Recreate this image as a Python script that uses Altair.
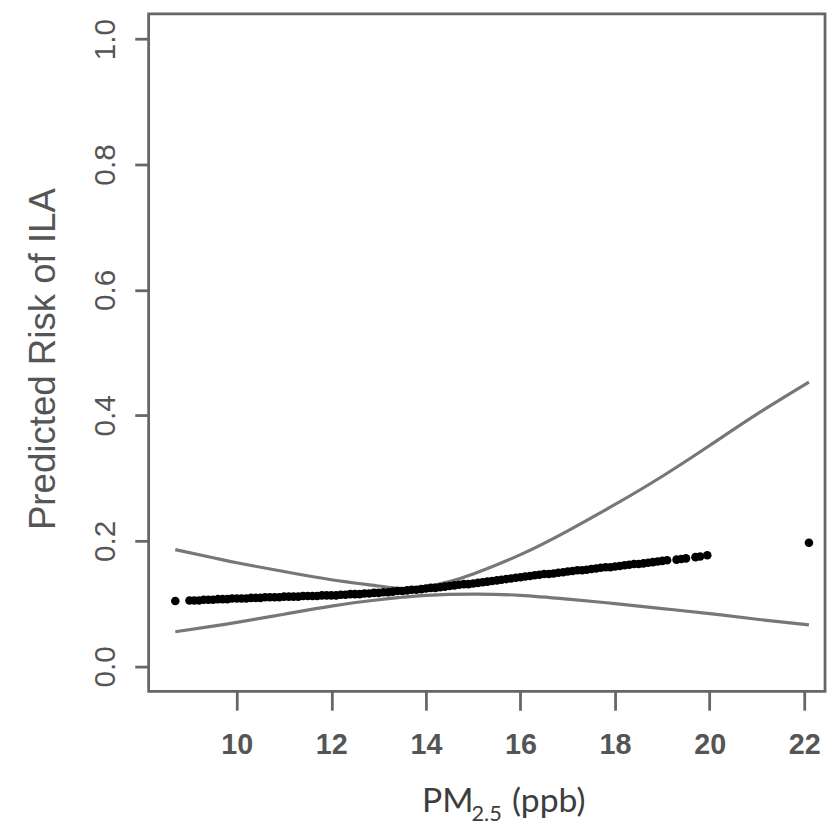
import altair as alt
import pandas as pd

# ---- data ----
pt_x = [8.7,
        9.0, 9.1, 9.2, 9.3, 9.4, 9.5, 9.6, 9.7, 9.8, 9.9,
        10.0, 10.1, 10.2, 10.3, 10.4, 10.5, 10.6, 10.7, 10.8, 10.9,
        11.0, 11.1, 11.2, 11.3, 11.4, 11.5, 11.6, 11.7, 11.8, 11.9,
        12.0, 12.1, 12.2, 12.3, 12.4, 12.5, 12.6, 12.7, 12.8, 12.9,
        13.0, 13.1, 13.2, 13.3, 13.4, 13.5, 13.6, 13.7, 13.8, 13.9,
        14.0, 14.1, 14.2, 14.3, 14.4, 14.5, 14.6, 14.7, 14.8, 14.9,
        15.0, 15.1, 15.2, 15.3, 15.4, 15.5, 15.6, 15.7, 15.8, 15.9,
        16.0, 16.1, 16.2, 16.3, 16.4, 16.5, 16.6, 16.7, 16.8, 16.9,
        17.0, 17.1, 17.2, 17.3, 17.4, 17.5, 17.6, 17.7, 17.8, 17.9,
        18.0, 18.1, 18.2, 18.3, 18.4, 18.5, 18.6, 18.7, 18.8, 18.9,
        19.0, 19.1, 19.3, 19.4, 19.5, 19.7, 19.8, 19.95,
        22.1]
pt_y = [0.104,
        0.105, 0.105, 0.105, 0.106, 0.106, 0.106, 0.107, 0.107, 0.107, 0.108,
        0.108, 0.108, 0.108, 0.109, 0.109, 0.109, 0.110, 0.110, 0.110, 0.110,
        0.111, 0.111, 0.111, 0.111, 0.112, 0.112, 0.112, 0.112, 0.113, 0.113,
        0.113, 0.113, 0.114, 0.114, 0.115, 0.115, 0.115, 0.116, 0.116, 0.117,
        0.117, 0.118, 0.118, 0.119, 0.120, 0.120, 0.121, 0.122, 0.122, 0.123,
        0.124, 0.125, 0.125, 0.126, 0.127, 0.128, 0.129, 0.130, 0.131, 0.131,
        0.132, 0.133, 0.134, 0.135, 0.136, 0.137, 0.138, 0.139, 0.140, 0.141,
        0.142, 0.143, 0.144, 0.145, 0.146, 0.147, 0.147, 0.148, 0.149, 0.150,
        0.151, 0.152, 0.153, 0.153, 0.154, 0.155, 0.156, 0.157, 0.158, 0.158,
        0.159, 0.160, 0.161, 0.162, 0.163, 0.163, 0.164, 0.165, 0.166, 0.167,
        0.168, 0.169, 0.170, 0.171, 0.172, 0.174, 0.175, 0.177,
        0.197]

upper_x = [8.7, 9.5, 10.0, 11.0, 12.0, 13.0, 13.5, 14.0, 14.5, 15.0, 16.0,
           17.0, 18.0, 19.0, 20.0, 21.0, 22.1]
upper_y = [0.186, 0.173, 0.165, 0.151, 0.138, 0.128, 0.124, 0.127, 0.135,
           0.147, 0.178, 0.216, 0.258, 0.303, 0.352, 0.402, 0.453]

lower_x = [8.7, 9.5, 10.0, 11.0, 12.0, 13.0, 13.5, 14.0, 15.0, 16.0, 17.0,
           18.0, 19.0, 20.0, 21.0, 22.1]
lower_y = [0.055, 0.064, 0.070, 0.083, 0.096, 0.106, 0.110, 0.113, 0.115,
           0.113, 0.107, 0.100, 0.092, 0.084, 0.075, 0.066]

x_ticks = [10, 12, 14, 16, 18, 20, 22]
y_ticks = [0.0, 0.2, 0.4, 0.6, 0.8, 1.0]
y_title = "Predicted Risk of ILA"
x_title_main = "PM"
x_title_sub = "2.5"
x_title_unit = "(ppb)"

# ---- build tables ----
pts = pd.DataFrame({"x": pt_x, "y": pt_y})
bands = pd.concat([
    pd.DataFrame({"x": upper_x, "y": upper_y, "band": "upper"}),
    pd.DataFrame({"x": lower_x, "y": lower_y, "band": "lower"}),
])

GRAY = "#666666"
TXT = "#555555"
W, H = 683, 684

xscale = alt.Scale(domain=[8.136, 22.44], nice=False, zero=False)
yscale = alt.Scale(domain=[-0.04, 1.04], nice=False, zero=False)

xaxis = alt.Axis(values=x_ticks, format="d", title=None, grid=False, domain=False,
                 tickSize=19, tickWidth=2.8, tickColor=GRAY,
                 labelFont="Liberation Sans", labelFontWeight="bold",
                 labelFontSize=29, labelColor=TXT, labelPadding=44,
                 labelBaseline="alphabetic", labelFlush=False, labelOverlap=False)
yaxis = alt.Axis(values=y_ticks, format=".1f", title=y_title, grid=False, domain=False,
                 tickSize=14, tickWidth=2.8, tickColor=GRAY,
                 labelFont="Liberation Sans", labelFontSize=30, labelColor=TXT,
                 labelAngle=-90, labelAlign="center", labelBaseline="alphabetic",
                 labelPadding=20, labelFlush=False, labelOverlap=False,
                 titleFont="Liberation Sans", titleFontSize=37, titleFontWeight="normal",
                 titleColor=TXT, titleAngle=-90, titleAlign="center",
                 titleBaseline="alphabetic", titleX=-95, titleY=348)

lines = alt.Chart(bands).mark_line(color="#777777", strokeWidth=3.2,
                                   interpolate="natural").encode(
    x=alt.X("x:Q", scale=xscale, axis=xaxis),
    y=alt.Y("y:Q", scale=yscale, axis=yaxis),
    detail="band:N",
)

points = alt.Chart(pts).mark_circle(color="black", opacity=1, size=75).encode(
    x=alt.X("x:Q", scale=xscale),
    y=alt.Y("y:Q", scale=yscale),
)

def label(text, x, y, size):
    return alt.Chart(pd.DataFrame({"t": [text]})).mark_text(
        font="Lato", fontSize=size, color="#3d3d3d", align="left",
        baseline="alphabetic").encode(
        x=alt.value(x), y=alt.value(y), text="t:N")

t1 = label(x_title_main, 276, 806, 34)
t2 = label(x_title_sub, 326, 815, 22)
t3 = label(x_title_unit, 367, 806, 34)

chart = alt.layer(lines, points, t1, t2, t3).properties(
    width=W, height=H,
    autosize=alt.AutoSizeParams(type="none"),
    padding={"left": 142, "top": 2, "right": 3, "bottom": 140},
).configure_view(stroke=GRAY, strokeWidth=2.8)

chart.save("out.html", embed_options={"renderer": "svg", "actions": False})
